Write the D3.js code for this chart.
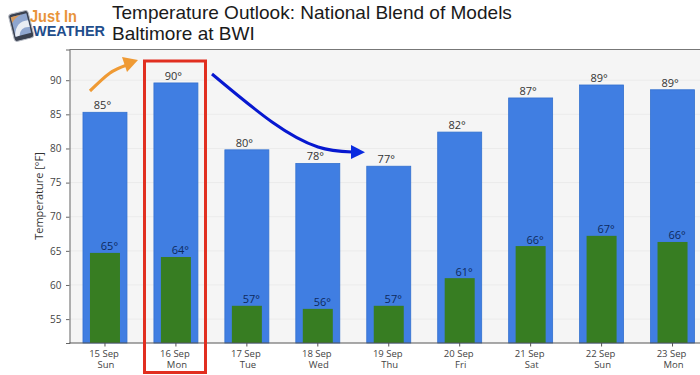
<!DOCTYPE html>
<html>
  <head>
    <script src="https://d3js.org/d3.v7.min.js"></script>
    <style>
      html, body { margin:0; padding:0; background:#fff; overflow:hidden; }
      text { font-family:"Open Sans", sans-serif; }
    </style>
  </head>
  <body>
    <script>
      let dates = ["15 Sep","16 Sep","17 Sep","18 Sep","19 Sep","20 Sep","21 Sep","22 Sep","23 Sep"];
      let days = ["Sun","Mon","Tue","Wed","Thu","Fri","Sat","Sun","Mon"];
      let highs = [85.3,89.6,79.8,77.8,77.4,82.4,87.4,89.3,88.6];
      let lows = [64.7,64.1,56.95,56.5,56.95,61.0,65.7,67.2,66.3];
      let highLabels = ["85°","90°","80°","78°","77°","82°","87°","89°","89°"];
      let lowLabels = ["65°","64°","57°","56°","57°","61°","66°","67°","66°"];
      let yTicks = [55,60,65,70,75,80,85,90];
      let titleLines = ["Temperature Outlook: National Blend of Models","Baltimore at BWI"];

      let width = 700, height = 375;
      let plotLeft = 69.5, plotRight = 708, plotTop = 49.5, plotBottom = 343;

      let svg = d3.select("body").append("svg")
          .attr("width", width).attr("height", height)
          .style("display", "block");

      let x = d3.scaleBand().domain(d3.range(dates.length))
          .range([plotLeft, plotRight]).paddingInner(0.38).paddingOuter(0.19);
      let y = d3.scaleLinear().domain([51.5, 94.5]).range([plotBottom, plotTop]);

      // panel
      svg.append("rect").attr("x", plotLeft).attr("y", plotTop)
          .attr("width", width - plotLeft).attr("height", plotBottom - plotTop)
          .attr("fill", "#f5f5f5");

      // grid
      svg.append("g").selectAll("line").data(yTicks).join("line")
          .attr("x1", plotLeft).attr("x2", width)
          .attr("y1", d => y(d)).attr("y2", d => y(d))
          .attr("stroke", "#ebebeb").attr("stroke-width", 1);

      // bars
      svg.append("g").selectAll("rect").data(highs).join("rect")
          .attr("x", (d, i) => x(i)).attr("y", d => y(d))
          .attr("width", x.bandwidth()).attr("height", d => plotBottom - y(d))
          .attr("fill", "#407ee2").attr("stroke", "#3270cf").attr("stroke-width", 0.8);
      svg.append("g").selectAll("rect").data(lows).join("rect")
          .attr("x", (d, i) => x(i) + x.bandwidth() / 2 - 15).attr("y", d => y(d))
          .attr("width", 30).attr("height", d => plotBottom - y(d))
          .attr("fill", "#377d22");

      // value labels
      svg.append("g").selectAll("text").data(highs).join("text")
          .attr("x", (d, i) => x(i) + x.bandwidth() / 2 - 2.5).attr("y", d => y(d) - 3)
          .attr("text-anchor", "middle").attr("font-size", 11).attr("fill", "#333")
          .text((d, i) => highLabels[i]);
      svg.append("g").selectAll("text").data(lows).join("text")
          .attr("x", (d, i) => x(i) + x.bandwidth() / 2 + 4.5).attr("y", d => y(d) - 2.5)
          .attr("text-anchor", "middle").attr("font-size", 11).attr("fill", "#0e2a5e")
          .text((d, i) => lowLabels[i]);

      // axes
      let yAxis = d3.axisLeft(y).tickValues(yTicks).tickSize(3.5).tickPadding(4.5);
      let yG = svg.append("g").attr("transform", "translate(" + plotLeft + ",0)").call(yAxis);
      yG.select(".domain").attr("stroke", "#666");
      yG.selectAll(".tick line").attr("stroke", "#666");
      yG.selectAll("text").attr("font-size", 10).attr("font-family", "Open Sans").attr("fill", "#444");

      let xAxis = d3.axisBottom(x).tickSize(3.5).tickFormat("");
      let xG = svg.append("g").attr("transform", "translate(0," + plotBottom + ")").call(xAxis);
      xG.select(".domain").remove();
      xG.selectAll(".tick line").attr("stroke", "#555");
      xG.selectAll(".tick text").remove();
      xG.selectAll(".tick").append("text")
          .attr("text-anchor", "middle").attr("font-size", 9.5).attr("fill", "#444")
          .attr("font-family", "Open Sans")
          .selectAll("tspan").data(i => [dates[i], days[i]]).join("tspan")
          .attr("x", (d, i) => i == 0 ? -1 : 1).attr("y", (d, i) => i == 0 ? 14 : 25)
          .text(d => d);

      svg.append("line").attr("x1", plotLeft).attr("x2", width).attr("y1", plotBottom).attr("y2", plotBottom)
          .attr("stroke", "#555").attr("stroke-width", 1);
      svg.append("line").attr("x1", plotLeft).attr("x2", width).attr("y1", plotTop).attr("y2", plotTop)
          .attr("stroke", "#777").attr("stroke-width", 1);

      svg.append("text").attr("transform", "translate(43,196) rotate(-90)")
          .attr("text-anchor", "middle").attr("font-size", 11).attr("fill", "#333")
          .text("Temperature [°F]");

      // title
      svg.append("g").selectAll("text").data(titleLines).join("text")
          .attr("x", 112).attr("y", (d, i) => i == 0 ? 18.5 : 40)
          .attr("font-size", 19.05).attr("fill", "#1a1a1a")
          .style("font-family", "'Liberation Sans', sans-serif")
          .text(d => d);

      // logo
      let logo = svg.append("g").attr("transform", "rotate(-14 21 25)");
      logo.append("rect").attr("x", 11).attr("y", 12).attr("width", 20).attr("height", 28).attr("rx", 3)
          .attr("fill", "#3a4150").attr("stroke", "#b9bdc6").attr("stroke-width", 1);
      logo.append("rect").attr("x", 13).attr("y", 15).attr("width", 16).attr("height", 20)
          .attr("fill", "#8fa6cf");
      logo.append("path").attr("d", "M13,33 Q17,20 29,22 L29,29 Q20,26 17,35 L13,35 Z").attr("fill", "#e9edf4");
      logo.append("path").attr("d", "M13,21 Q17,16 24,15 L13,15 Z").attr("fill", "#d99a5a");
      svg.append("text").attr("x", 30).attr("y", 21.7).attr("font-size", 16).attr("font-weight", 700)
          .attr("fill", "#e8943a").attr("textLength", 47).attr("lengthAdjust", "spacingAndGlyphs")
          .style("font-family", "'Liberation Sans', sans-serif").text("Just In");
      svg.append("text").attr("x", 33).attr("y", 35.5).attr("font-size", 14).attr("font-weight", 700)
          .attr("fill", "#1f4e8c").attr("textLength", 72).attr("lengthAdjust", "spacingAndGlyphs")
          .style("font-family", "'Liberation Sans', sans-serif").text("WEATHER");

      // annotations
      svg.append("rect").attr("x", 144.5).attr("y", 61).attr("width", 61).attr("height", 311.5)
          .attr("fill", "none").attr("stroke", "#e12f20").attr("stroke-width", 3);

      let curve = d3.line().curve(d3.curveNatural);
      svg.append("path").attr("d", curve([[90,91],[110,73],[127,65]]))
          .attr("fill", "none").attr("stroke", "#ef9a34").attr("stroke-width", 3.2);
      svg.append("path").attr("d", "M138,60 L122,57 L127,72 Z").attr("fill", "#ef9a34");

      svg.append("path").attr("d", curve([[212,74],[272,122],[318,147],[352,152]]))
          .attr("fill", "none").attr("stroke", "#0718d0").attr("stroke-width", 3);
      svg.append("path").attr("d", "M365,152.3 L351,145 L351,159 Z").attr("fill", "#0a2be0");
    </script>
  </body>
</html>
